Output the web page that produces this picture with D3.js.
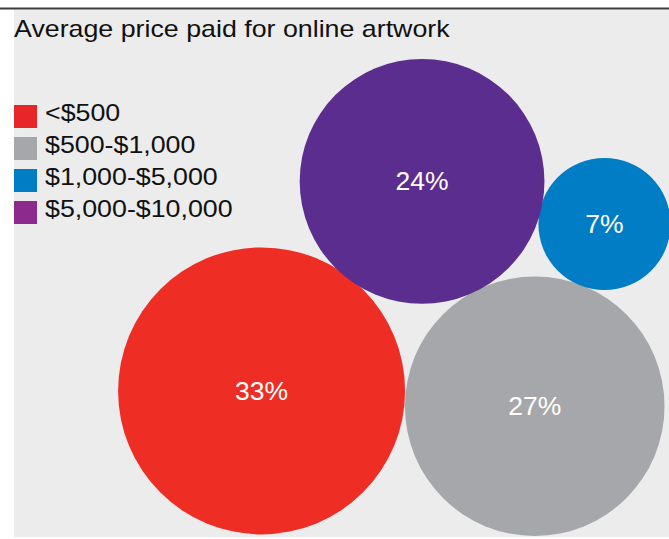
<!DOCTYPE html>
<html>
<head>
<meta charset="utf-8">
<script src="https://cdn.jsdelivr.net/npm/d3@7"></script>
<style>
  html, body { margin: 0; padding: 0; background: #fff; }
  svg { display: block; }
</style>
</head>
<body>
<script>
// Data
const categories = ["<$500", "$500-$1,000", "$1,000-$5,000", "$5,000-$10,000"];
const shares = [33, 27, 7, 24];
const title = "Average price paid for online artwork";

// Colours (bubble / legend swatch)
const bubbleColors = ["#ee2e24", "#a6a7aa", "#007dc5", "#5b2d8e"];
const swatchColors = ["#e8262a", "#a6a7aa", "#007dc5", "#8c2a8e"];

// Layout: bubble centres in a 0..1 frame of the plot panel
const spots = [[0.378, 0.72], [0.795, 0.749], [0.9015, 0.4045], [0.623, 0.324]];

const width = 669;
const height = 539;
const margin = { top: 10, right: 0, bottom: 2, left: 14 };
const font = "Liberation Sans, Arial, Helvetica, sans-serif";
const stretch = 1.165; // the source face is wider than Arial

const svg = d3
  .select("body")
  .append("svg")
  .attr("width", width)
  .attr("height", height)
  .attr("viewBox", [0, 0, width, height]);

// Background panel and top rule
svg
  .append("rect")
  .attr("x", margin.left)
  .attr("y", margin.top)
  .attr("width", width - margin.left - margin.right)
  .attr("height", height - margin.top - margin.bottom)
  .attr("fill", "#ececec");

svg
  .append("line")
  .attr("x1", 0)
  .attr("x2", width)
  .attr("y1", 8.5)
  .attr("y2", 8.5)
  .attr("stroke", "#3c3c3c")
  .attr("stroke-width", 2);

// Title
svg
  .append("text")
  .attr("transform", `translate(${margin.left},37) scale(${stretch},1)`)
  .attr("font-family", font)
  .attr("font-size", 23)
  .attr("fill", "#111")
  .text(title);

// Scales
const rScale = d3.scaleSqrt().domain([0, d3.max(shares)]).range([0, 143.5]);
const xScale = d3.scaleLinear().domain([0, 1]).range([margin.left, width]);
const yScale = d3.scaleLinear().domain([0, 1]).range([margin.top, height]);

const rows = categories.map((c, i) => ({
  name: c,
  value: shares[i],
  color: bubbleColors[i],
  swatch: swatchColors[i],
  pos: spots[i],
}));

// Bubbles
const bubbles = svg.append("g").selectAll("g").data(rows).join("g")
  .attr("transform", (d) => `translate(${xScale(d.pos[0])},${yScale(d.pos[1])})`);

bubbles
  .append("circle")
  .attr("r", (d) => rScale(d.value))
  .attr("fill", (d) => d.color);

bubbles
  .append("text")
  .attr("transform", "scale(1.06,1)")
  .attr("dy", "0.36em")
  .attr("text-anchor", "middle")
  .attr("font-family", font)
  .attr("font-size", 25)
  .attr("fill", "#fff")
  .text((d) => d.value + "%");

// Legend
const legendY = d3.scaleBand().domain(categories).range([103, 231]);
const legend = svg.append("g").selectAll("g").data(rows).join("g")
  .attr("transform", (d) => `translate(${margin.left},${legendY(d.name)})`);

legend
  .append("rect")
  .attr("x", 0)
  .attr("y", 2)
  .attr("width", 23)
  .attr("height", 23)
  .attr("fill", (d) => d.swatch);

legend
  .append("text")
  .attr("transform", `translate(31,10) scale(${stretch},1)`)
  .attr("dy", "0.36em")
  .attr("font-family", font)
  .attr("font-size", 23)
  .attr("fill", "#111")
  .text((d) => d.name);
</script>
</body>
</html>
